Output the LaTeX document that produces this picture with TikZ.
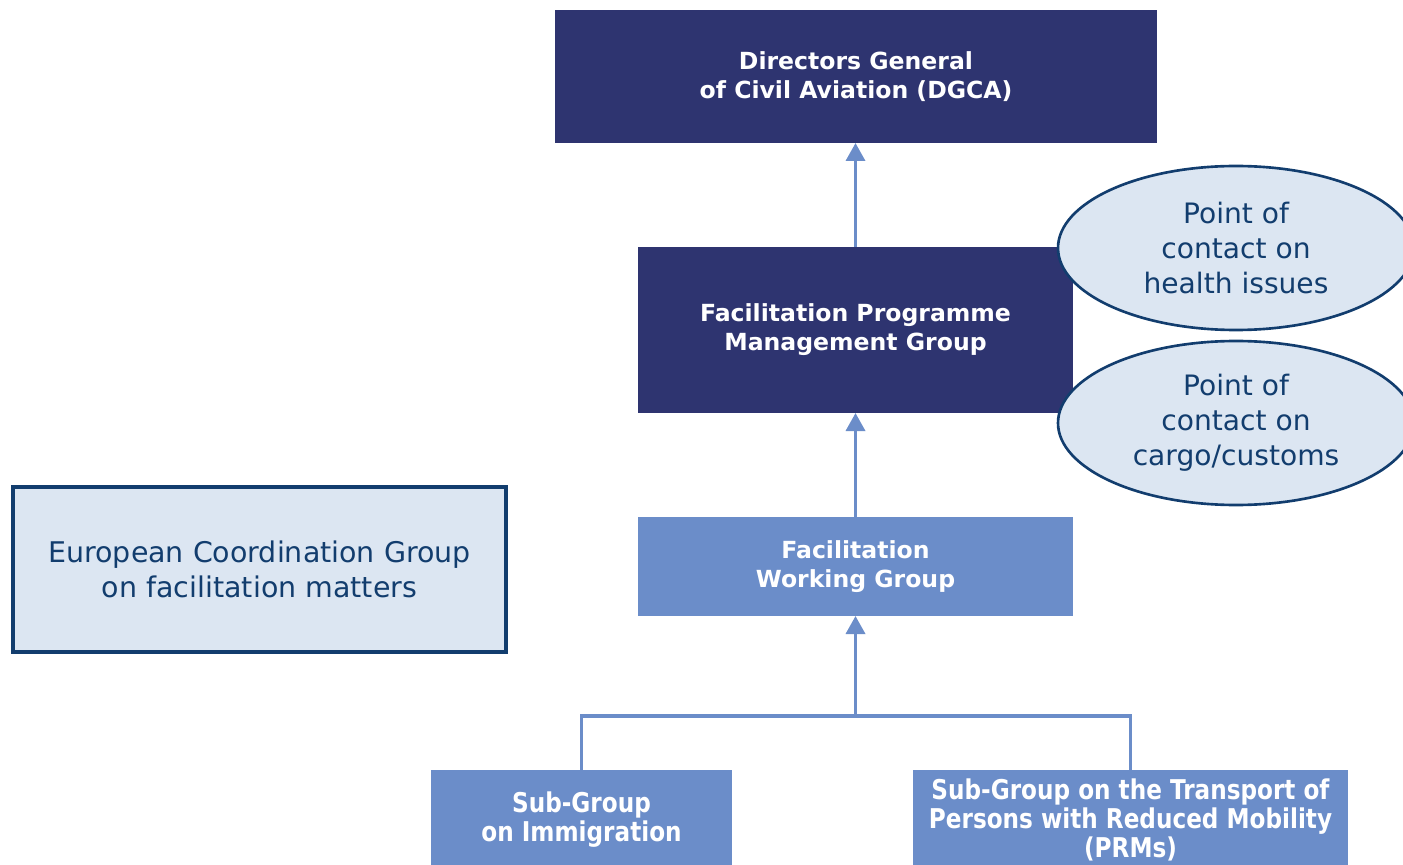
\documentclass[tikz,border=0pt]{standalone}
\usepackage{fontspec}
\setmainfont{DejaVu Sans}
\newfontfamily\condfont[FakeStretch=0.85]{DejaVu Sans}
\usetikzlibrary{arrows.meta,shapes.geometric}

\definecolor{navy}{HTML}{2E3470}
\definecolor{midblue}{HTML}{6B8DC9}
\definecolor{paleblue}{HTML}{DCE6F2}
\definecolor{inkblue}{HTML}{123D6E}

\tikzset{
	unit/.style={inner sep=0pt, outer sep=0pt, align=center},
	darkbox/.style={unit, fill=navy, text=white, font=\bfseries\fontsize{13.4}{16.5}\selectfont},
	midbox/.style={unit, fill=midblue, text=white, font=\bfseries\fontsize{13.4}{16.5}\selectfont},
	subbox/.style={unit, fill=midblue, text=white, font=\condfont\bfseries\fontsize{15.5}{16.5}\selectfont},
	ecgbox/.style={unit, fill=paleblue, draw=inkblue, line width=1.8pt, text=inkblue, font=\fontsize{16.2}{20}\selectfont},
	contact/.style={unit, ellipse, fill=paleblue, draw=inkblue, line width=1.5pt, text=inkblue,
		minimum width=7.12cm, minimum height=3.28cm, font=\fontsize{16}{20}\selectfont},
	link/.style={midblue, line width=2pt, -{Triangle[length=0.36cm, width=0.38cm]}},
	branch/.style={midblue, line width=2pt}
}

\begin{document}
\begin{tikzpicture}
					
					\useasboundingbox (0,0) rectangle (28.06,17.28);
					\clip (0,0) rectangle (28.06,17.28);
					
					% main chain
					\node[darkbox, minimum width=12.04cm, minimum height=2.66cm] (dgca) at (17.12,15.75) {Directors General\\of Civil Aviation (DGCA)};
					\node[darkbox, minimum width=8.70cm, minimum height=3.32cm] (fpmg) at (17.11,10.68) {Facilitation Programme\\Management Group};
					\node[midbox, minimum width=8.70cm, minimum height=1.98cm] (fwg) at (17.11,5.95) {Facilitation\\Working Group};
					
					% sub-groups
					\node[subbox, minimum width=6.02cm, minimum height=2.0cm] (immig) at (11.63,0.88) {Sub-Group\\on Immigration};
					\node[subbox, minimum width=8.70cm, minimum height=2.0cm] (prm) at (22.61,0.88) {Sub-Group on the Transport of\\Persons with Reduced Mobility\\(PRMs)};
					
					\node[ecgbox, minimum width=9.86cm, minimum height=3.30cm] (ecg) at (5.19,5.89) {European Coordination Group\\on facilitation matters};
					
					% points of contact
					\node[contact] (health) at (24.72,12.32) {Point of\\contact on\\health issues};
					\node[contact] (cargo) at (24.72,8.82) {Point of\\contact on\\cargo/customs};
					
					\coordinate (join) at (17.11,2.96);
					\draw[link] (fpmg.north) -- (fpmg.north |- dgca.south);
					\draw[link] (fwg.north) -- (fpmg.south);
					\draw[link] (join) -- (fwg.south);
					\draw[branch] (immig.north) |- (join) -| (prm.north);
				\end{tikzpicture}
\end{document}
